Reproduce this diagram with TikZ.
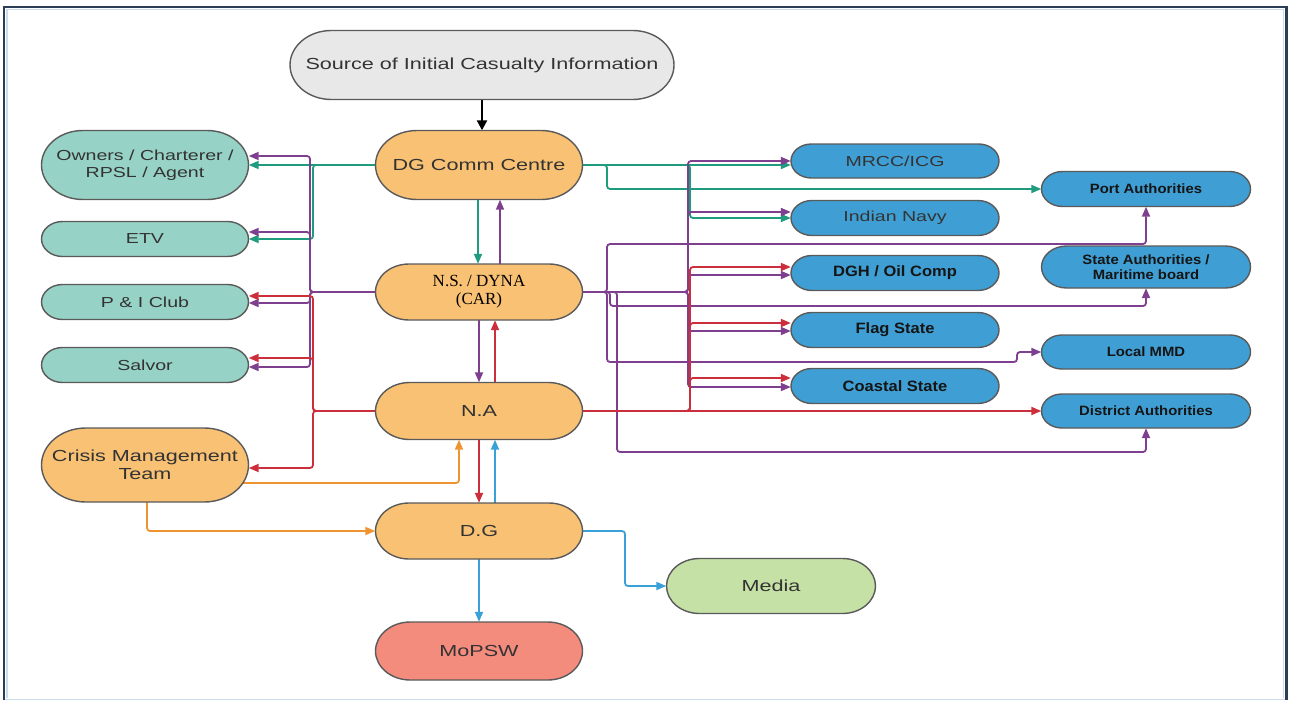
\documentclass[tikz,border=0pt]{standalone}
\usepackage{fontspec}
\setmainfont{Liberation Sans}
\newfontfamily\widesans{Liberation Sans}[FakeStretch=1.35]
\newfontfamily\boldsans{Liberation Sans}[FakeStretch=1.1]
\newfontfamily\serifface{Liberation Serif}
\usetikzlibrary{arrows.meta,backgrounds}

\definecolor{nodeline}{HTML}{5A5A5A}
\definecolor{txt}{HTML}{333333}
\definecolor{txtdark}{HTML}{151515}
\definecolor{orangefill}{HTML}{F8C174}
\definecolor{tealfill}{HTML}{96D2C5}
\definecolor{bluefill}{HTML}{3F9FD4}
\definecolor{grayfill}{HTML}{E8E8E8}
\definecolor{salmonfill}{HTML}{F48C7E}
\definecolor{greenfill}{HTML}{C6E1A6}
\definecolor{tealline}{HTML}{1F9B7E}
\definecolor{purpleline}{HTML}{7E3F8F}
\definecolor{redline}{HTML}{CC2F3B}
\definecolor{orangeline}{HTML}{EE9532}
\definecolor{blueline}{HTML}{3AA0D8}
\definecolor{framedark}{HTML}{2B3E55}
\definecolor{framelight}{HTML}{C9DCF0}

\tikzset{
  label box/.style={rectangle, inner sep=0pt, align=center, text=txt},
  pill outline/.style={draw=nodeline, line width=1.4pt},
  bigtext/.style={font=\widesans\fontsize{16}{18}\selectfont},
  tealtext/.style={font=\widesans\fontsize{14.5}{16.5}\selectfont},
  greytext/.style={font=\widesans\fontsize{14.5}{16}\selectfont},
  boldtext/.style={text=txtdark, font=\boldsans\bfseries\fontsize{15}{16}\selectfont},
  smallbold/.style={text=txtdark, font=\boldsans\bfseries\fontsize{13.5}{14.5}\selectfont},
  conn/.style={line width=1.8pt, rounded corners=3pt,
    -{Triangle[length=10pt,width=8pt]}},
  tealc/.style={conn, tealline},
  purc/.style={conn, purpleline},
  redc/.style={conn, redline},
  orc/.style={conn, orangeline},
  bluec/.style={conn, blueline},
  blkc/.style={line width=2.2pt, black, -{Triangle[length=10pt,width=10pt]}},
}

% \pillbox[text options]{fill}{name}{(x,y)}{width}{height}{text}
% draws a box with half-elliptic ends and places a named label node on it
\newcommand\pillbox[7][]{%
  \begin{scope}[shift={#4}]
    \pgfmathsetmacro\pillry{#6/2}
    \pgfmathsetmacro\pillrx{0.6*#6}
    \pgfmathsetmacro\pilla{#5/2-\pillrx}
    \filldraw[pill outline, fill=#2]
      ({-\pilla*1pt},{\pillry*1pt}) -- ({\pilla*1pt},{\pillry*1pt})
      arc[start angle=90, end angle=-90, x radius=\pillrx pt, y radius=\pillry pt]
      -- ({-\pilla*1pt},{-\pillry*1pt})
      arc[start angle=270, end angle=90, x radius=\pillrx pt, y radius=\pillry pt]
      -- cycle;
  \end{scope}
  \node[label box, minimum width=#5pt, minimum height=#6pt, #1] (#3) at #4 {#7};
}

\begin{document}
\begin{tikzpicture}[x=1pt, y=-1pt]
\useasboundingbox (0,0) rectangle (1289,701);

% outer frame
\draw[framelight, line width=1.5pt] (4,699.5) -- (1286,699.5);
\draw[framelight, line width=1.2pt] (7,698) -- (7,9.5) -- (1283.5,9.5) -- (1283.5,698);
\draw[framedark, line width=2.5pt] (4,700) -- (4,7) -- (1286.5,7) -- (1286.5,700);

% central column
\pillbox[bigtext]{grayfill}{src}{(482,65)}{384}{69}{Source of Initial Casualty Information}
\pillbox[bigtext]{orangefill}{dgc}{(479,165)}{207}{69}{DG Comm Centre}
\pillbox[text=black, font=\serifface\fontsize{17}{18}\selectfont]{orangefill}{ns}{(479,292)}{207}{56}{N.S. / DYNA\\(CAR)}
\pillbox[bigtext]{orangefill}{na}{(479,411)}{207}{57}{N.A}
\pillbox[bigtext]{orangefill}{dg}{(479,531)}{207}{56}{D.G}
\pillbox[bigtext]{salmonfill}{mopsw}{(479,651)}{207}{58}{MoPSW}
\pillbox[bigtext]{greenfill}{media}{(771,586)}{209}{55}{Media}

% left column
\pillbox[tealtext]{tealfill}{owners}{(145,165)}{207}{69}{Owners / Charterer /\\RPSL / Agent}
\pillbox[tealtext]{tealfill}{etv}{(145,239)}{207}{35}{ETV}
\pillbox[tealtext]{tealfill}{pi}{(145,302)}{207}{35}{P \& I Club}
\pillbox[tealtext]{tealfill}{salvor}{(145,365)}{207}{35}{Salvor}
\pillbox[bigtext]{orangefill}{crisis}{(145,465)}{207}{74}{Crisis Management\\Team}

% right columns
\pillbox[greytext]{bluefill}{mrcc}{(895,161)}{208}{34}{MRCC/ICG}
\pillbox[greytext]{bluefill}{navy}{(895,218)}{208}{35}{Indian Navy}
\pillbox[boldtext]{bluefill}{dgh}{(895,273)}{208}{35}{DGH / Oil Comp}
\pillbox[boldtext]{bluefill}{flag}{(895,330)}{208}{35}{Flag State}
\pillbox[boldtext]{bluefill}{coastal}{(895,386)}{208}{35}{Coastal State}
\pillbox[smallbold]{bluefill}{port}{(1146,189)}{209}{35}{Port Authorities}
\pillbox[smallbold]{bluefill}{state}{(1146,267)}{209}{42}{State Authorities /\\Maritime board}
\pillbox[smallbold]{bluefill}{mmd}{(1146,352)}{209}{34}{Local MMD}
\pillbox[smallbold]{bluefill}{dist}{(1146,411)}{209}{34}{District Authorities}

\begin{scope}[on background layer]
% vertical chain
\draw[blkc] (src.south) -- (src.south |- dgc.north);
\draw[tealc] ([xshift=-1pt]dgc.south) -- ([xshift=-1pt]ns.north);
\draw[purc] ([xshift=21pt]ns.north) -- ([xshift=21pt]dgc.south);
\draw[purc] (ns.south) -- (na.north);
\draw[redc] ([xshift=16pt]na.north) -- ([xshift=16pt]ns.south);
\draw[redc] (na.south) -- (dg.north);
\draw[bluec] ([xshift=16pt]dg.north) -- ([xshift=16pt]na.south);
\draw[bluec] (dg.south) -- (mopsw.north);
\draw[bluec] (dg.center) -- (625,531) |- (media.west);

% crisis management team
\draw[orc] ([yshift=-18pt]crisis.center) -| ([xshift=-20pt]na.south);
\draw[orc] ([xshift=2pt]crisis.center) |- (dg.west);

% DG Comm Centre, teal
\draw[tealc] (dgc.center) -- (owners.east);
\draw[tealc] (dgc.center) -- (313,165) |- (etv.east);
\draw[tealc] (dgc.center) -- (dgc.east -| mrcc.west);
\draw[tealc] (dgc.center) -- (607,165) |- (port.west);
\draw[tealc] (dgc.center) -- (690,165) |- (navy.west);

% N.S. / DYNA, purple (left)
\draw[purc] (ns.center) -- (310,292) |- ([yshift=9pt]owners.east);
\draw[purc] (ns.center) -- (310,292) |- ([yshift=7pt]etv.east);
\draw[purc] (ns.center) -- (310,292) |- ([yshift=-1pt]pi.east);
\draw[purc] (ns.center) -- (310,292) |- ([yshift=-2pt]salvor.east);

% N.S. / DYNA, purple (right)
\draw[purc] (ns.center) -- (688,292) |- (mrcc.west);
\draw[purc] (ns.center) -- (688,292) |- ([yshift=6pt]navy.west);
\draw[purc] (ns.center) -- (688,292) |- ([yshift=-2pt]dgh.west);
\draw[purc] (ns.center) -- (688,292) |- ([yshift=-1pt]flag.west);
\draw[purc] (ns.center) -- (688,292) |- ([yshift=-1pt]coastal.west);
\draw[purc] (ns.center) -- (607,292) -- (607,244) -| (port.south);
\draw[purc] (ns.center) -- (610,292) -- (610,306) -| (state.south);
\draw[purc] (ns.center) -- (607,292) -- (607,362) -- (1017,362) -- (1017,352) -- (mmd.west);
\draw[purc] (ns.center) -- (617,292) -- (617,452) -| (dist.south);

% N.A, red (left)
\draw[redc] (na.center) -- (313,411) |- ([yshift=6pt]pi.east);
\draw[redc] (na.center) -- (313,411) |- ([yshift=7pt]salvor.east);
\draw[redc] (na.center) -- (313,411) |- ([yshift=-3pt]crisis.east);

% N.A, red (right)
\draw[redc] (na.center) -- (dist.west);
\draw[redc] (na.center) -- (690,411) |- ([yshift=6pt]dgh.west);
\draw[redc] (na.center) -- (690,411) |- ([yshift=7pt]flag.west);
\draw[redc] (na.center) -- (690,411) |- ([yshift=8pt]coastal.west);
\end{scope}
\end{tikzpicture}
\end{document}
